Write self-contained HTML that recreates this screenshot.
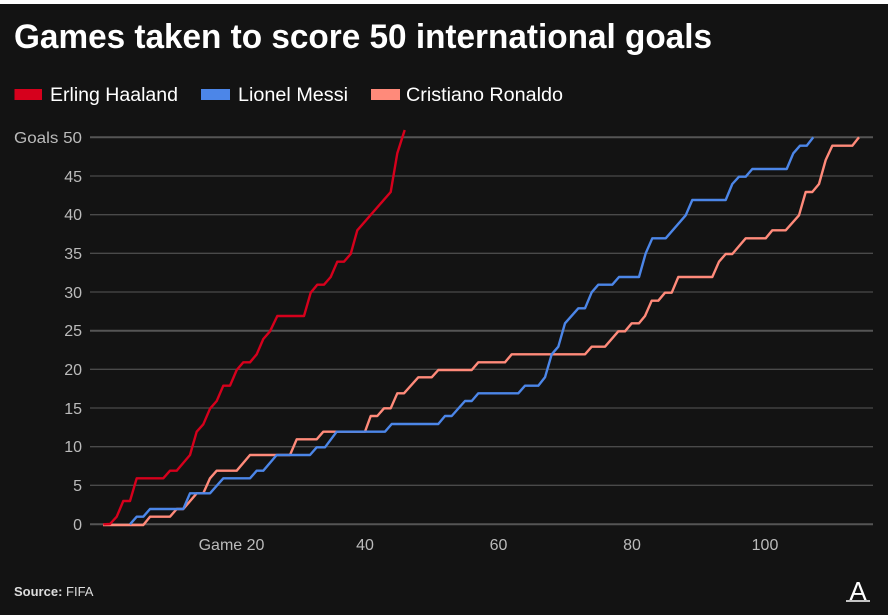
<!DOCTYPE html>
<html><head><meta charset="utf-8"><style>
html,body{margin:0;padding:0;background:#fff;}
svg{display:block;}
text{font-family:"Liberation Sans",sans-serif;}
</style></head><body>
<svg width="888" height="615" viewBox="0 0 888 615" xmlns="http://www.w3.org/2000/svg">
<rect x="0" y="4" width="888" height="611" fill="#131313"/>
<text x="14" y="48" font-size="34" font-weight="bold" fill="#fff" textLength="698" lengthAdjust="spacingAndGlyphs">Games taken to score 50 international goals</text>
<rect x="14.5" y="89" width="27.5" height="11" fill="#d6001c"/>
<text x="50" y="101" font-size="19" fill="#fff" textLength="128" lengthAdjust="spacingAndGlyphs">Erling Haaland</text>
<rect x="201" y="89" width="29" height="11" fill="#4c86e8"/>
<text x="238" y="101" font-size="19" fill="#fff" textLength="110" lengthAdjust="spacingAndGlyphs">Lionel Messi</text>
<rect x="371" y="89" width="29" height="11" fill="#ff8a7a"/>
<text x="406" y="101" font-size="19" fill="#fff" textLength="157" lengthAdjust="spacingAndGlyphs">Cristiano Ronaldo</text>
<g stroke="#4a4a4a" stroke-width="1.3">
<line x1="90" x2="873" y1="137.3" y2="137.3" stroke-width="2" stroke="#555"/>
<line x1="90" x2="873" y1="176" y2="176"/>
<line x1="90" x2="873" y1="214.7" y2="214.7"/>
<line x1="90" x2="873" y1="253.3" y2="253.3"/>
<line x1="90" x2="873" y1="292" y2="292"/>
<line x1="90" x2="873" y1="330.7" y2="330.7" stroke-width="2" stroke="#555"/>
<line x1="90" x2="873" y1="369.3" y2="369.3"/>
<line x1="90" x2="873" y1="408" y2="408"/>
<line x1="90" x2="873" y1="446.7" y2="446.7"/>
<line x1="90" x2="873" y1="485.3" y2="485.3"/>
<line x1="90" x2="873" y1="524.3" y2="524.3" stroke-width="2" stroke="#555"/>
</g>
<g font-size="16" fill="#bbb" text-anchor="end">
<text x="82" y="143" textLength="68" lengthAdjust="spacingAndGlyphs">Goals 50</text>
<text x="82" y="182">45</text>
<text x="82" y="220">40</text>
<text x="82" y="259">35</text>
<text x="82" y="298">30</text>
<text x="82" y="336">25</text>
<text x="82" y="375">20</text>
<text x="82" y="414">15</text>
<text x="82" y="452">10</text>
<text x="82" y="491">5</text>
<text x="82" y="530">0</text>
</g>
<g font-size="16" fill="#bbb" text-anchor="middle">
<text x="231.5" y="550">Game 20</text>
<text x="365" y="550">40</text>
<text x="498.5" y="550">60</text>
<text x="632" y="550">80</text>
<text x="765" y="550">100</text>
</g>
<g fill="none" stroke-width="2.4" stroke-linejoin="round">
<polyline stroke="#ff8a7a" points="103,525 143.3,525 150,516.7 170,516.7 176.7,509 183.3,509 196.7,493.3 203.3,493.3 210,478.3 216.7,470.7 236.7,470.7 250,455 290,455 296.7,439.3 316.7,439.3 323.3,431.7 365,431.7 370.7,416 377.3,416 384,408.3 390.7,408.3 397.3,393.3 404,393.3 418.3,377.3 431.7,377.3 438.3,370 471.7,370 478.3,362.3 505,362.3 511.7,354.3 585,354.3 591.7,346.7 605,346.7 618.3,331.3 625,331.3 631.7,323.3 639,323.3 645,316 651.7,300.7 658.3,300.7 665,292.7 671.7,292.7 678.3,277 712.3,277 719,261.7 725.7,254 732.3,254 745.7,238.3 765.7,238.3 772.3,230.3 785.7,230.3 799,215.3 805.7,192 812.3,192 819,184 825.7,160 832.3,145.7 852.3,145.7 859,137.3"/>
<polyline stroke="#4c86e8" points="130,524.3 136.7,516.7 143.3,516.7 150,509 183.3,509 190,493.3 210,493.3 223.3,478.3 250,478.3 256.7,470.7 263.3,470.7 276.7,455 310,455 316.7,447.3 325,447.3 336.7,431.7 385,431.7 391.7,424 438.3,424 445,416 451.7,416 465,401 471.7,401 478.3,393.3 518.3,393.3 525,385.7 538.3,385.7 545,377.3 551.7,354.3 558.3,346.7 565,323.3 578.3,308.3 585,308.3 591.7,292.3 598.3,284.7 612.3,284.7 619,277 639,277 645.7,253.3 652.3,238.3 665.7,238.3 685.7,215.3 692.3,200 725.7,200 732.3,184 739,176.7 745.7,176.7 752.3,169 786.7,169 793.3,153.3 800,145.7 806.7,145.7 813.3,137.3"/>
<polyline stroke="#d6001c" points="103.3,524.3 110,524 116.7,516.7 123.3,501 130,501 136.7,478.3 163.3,478.3 170,470.7 176.7,470.7 190,455 196.7,431.7 203.3,424.3 210,408.7 216.7,401 223.3,385.7 230,385.7 236.7,370 243.3,362.3 250,362.3 256.7,354.3 263.3,339 270,331.3 277.3,316 304,316 310.7,292.7 317.3,284.7 324,284.7 330.7,277 337.3,261.7 344,261.7 350.7,254 357.3,230.3 390.7,192 397.3,153.3 404.7,130"/>
</g>
<text x="14" y="596" font-size="13" fill="#ddd"><tspan font-weight="bold">Source:</tspan> FIFA</text>
<text x="858" y="600" font-size="26" fill="#fff" text-anchor="middle" font-family="Liberation Serif, serif">A</text>
<line x1="846" y1="601" x2="870" y2="601" stroke="#fff" stroke-width="1.5"/>
</svg>
</body></html>
